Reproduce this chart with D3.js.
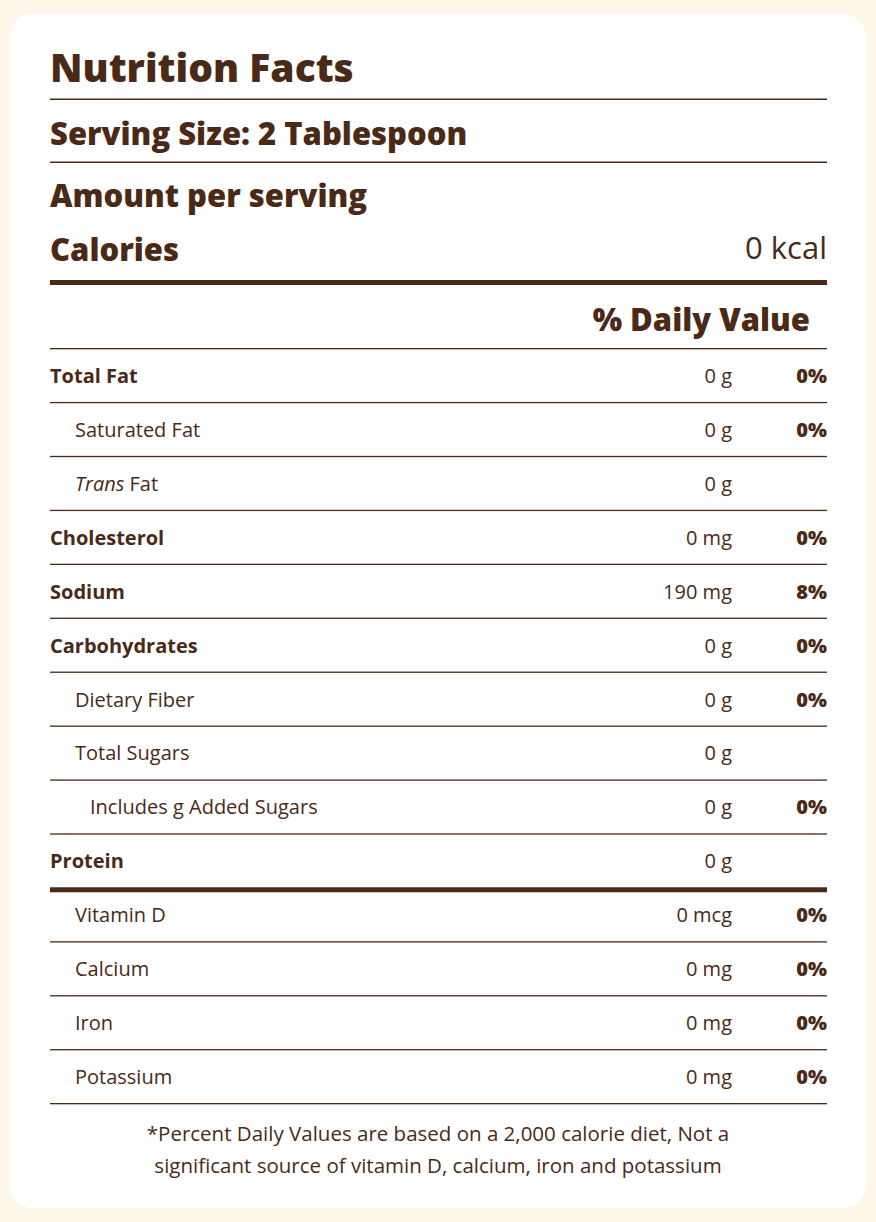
<!DOCTYPE html><html><head><meta charset="utf-8">
<script src="https://cdn.jsdelivr.net/npm/d3@7"></script>
<style>body{margin:0;background:#fdf6e9;}</style></head><body>
<script>
const labels=["Total Fat","Saturated Fat","Trans Fat","Cholesterol","Sodium","Carbohydrates","Dietary Fiber","Total Sugars","Includes g Added Sugars","Protein","Vitamin D","Calcium","Iron","Potassium"];
const amounts=["0 g","0 g","0 g","0 mg","190 mg","0 g","0 g","0 g","0 g","0 g","0 mcg","0 mg","0 mg","0 mg"];
const dv=["0%","0%","","0%","8%","0%","0%","","0%","","0%","0%","0%","0%"];
const level=[0,1,1,0,0,0,1,1,2,0,1,1,1,1];
const footer=["*Percent Daily Values are based on a 2,000 calorie diet, Not a","significant source of vitamin D, calcium, iron and potassium"];
const C="#4a2a17", F="'Open Sans', sans-serif";
const svg=d3.select("body").append("svg").attr("width",876).attr("height",1222);
svg.append("rect").attr("x",10).attr("y",14).attr("width",856).attr("height",1194).attr("rx",22).attr("fill","#fff");
const t=(x,y,s,w,txt,anchor="start")=>svg.append("text").attr("x",x).attr("y",y).attr("font-size",s).attr("font-weight",w).attr("font-family",F).attr("fill",C).attr("text-anchor",anchor).text(txt);
const line=(y,h)=>svg.append("rect").attr("x",50).attr("y",y).attr("width",777).attr("height",h).attr("fill",C);
t(50,82,39,800,"Nutrition Facts");line(98.5,1.5);
t(50,145,31,800,"Serving Size: 2 Tablespoon");line(161.5,1.5);
t(50,207,31,800,"Amount per serving");
t(50,261,31,800,"Calories");t(827,259,31,400,"0 kcal","end");
line(280,5);
t(810,331,31,800,"% Daily Value","end");
const y=d3.scaleLinear().domain([0,labels.length]).range([348,1103]);
labels.forEach((l,i)=>{
  const top=y(i),bot=y(i+1),cy=(top+bot)/2+8;
  line(top,i===10?5:1.3);
  const x=50+(level[i]===1?25:level[i]===2?40:0);
  const tx=t(x,cy,20,level[i]===0?700:400,"");
  if(l==="Trans Fat"){tx.append("tspan").attr("font-style","italic").text("Trans");tx.append("tspan").text(" Fat");}
  else tx.text(l);
  t(732,cy,20,400,amounts[i],"end");
  t(827,cy,20,800,dv[i],"end");
});
line(y(labels.length),1.3);
footer.forEach((f,i)=>t(438,1141+i*32,20.5,400,f,"middle"));
</script></body></html>
